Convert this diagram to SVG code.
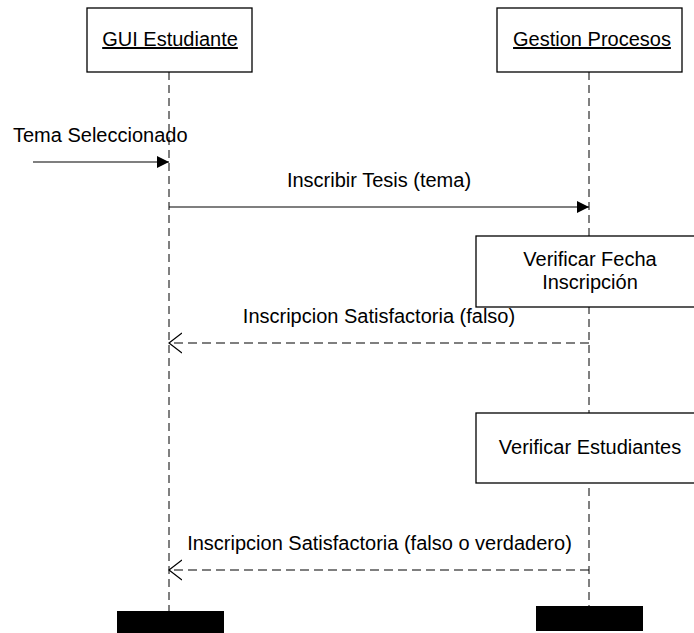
<svg xmlns="http://www.w3.org/2000/svg" width="694" height="633" viewBox="0 0 694 633">
  <style>
    text { font-family: "Liberation Sans", Arial, sans-serif; font-size: 20px; fill: #000; }
    .box { fill: #fff; stroke: #000; stroke-width: 1.3; }
    .life { stroke: #000; stroke-width: 1; stroke-dasharray: 8 5; fill: none; }
    .msg { stroke: #000; stroke-width: 1.2; fill: none; }
    .ret { stroke: #000; stroke-width: 1.2; fill: none; stroke-dasharray: 9 5; }
    .end { fill: #000; }
  </style>
  <defs>
    <marker id="solid" viewBox="0 0 12 12" refX="12" refY="6" markerWidth="12" markerHeight="12" markerUnits="userSpaceOnUse" orient="auto">
      <path d="M0,0 L12,6 L0,12 Z" fill="#000"/>
    </marker>
    <marker id="open" viewBox="0 0 14 22" refX="13" refY="11" markerWidth="14" markerHeight="22" markerUnits="userSpaceOnUse" orient="auto">
      <path d="M0,1 L13,11 L0,21" fill="none" stroke="#000" stroke-width="1.2"/>
    </marker>
  </defs>

  <!-- lifelines -->
  <g id="lifelines">
    <line class="life" x1="169" y1="72" x2="169" y2="611"/>
    <line class="life" x1="589" y1="72" x2="589" y2="606"/>
  </g>

  <!-- participants -->
  <g id="gui-estudiante">
    <rect class="box" x="87" y="8" width="165" height="64"/>
    <text x="170" y="46" text-anchor="middle" text-decoration="underline">GUI Estudiante</text>
    <rect class="end" x="117" y="611" width="107" height="24"/>
  </g>
  <g id="gestion-procesos">
    <rect class="box" x="497" y="8" width="185" height="64"/>
    <text x="592" y="46" text-anchor="middle" text-decoration="underline">Gestion Procesos</text>
    <rect class="end" x="536" y="606" width="107" height="25"/>
  </g>

  <!-- activities on Gestion Procesos -->
  <g id="verificar-fecha">
    <rect class="box" x="476" y="236" width="228" height="71"/>
    <text x="590" y="266" text-anchor="middle">Verificar Fecha</text>
    <text x="590" y="289" text-anchor="middle">Inscripción</text>
  </g>
  <g id="verificar-estudiantes">
    <rect class="box" x="476" y="413" width="228" height="70"/>
    <text x="590" y="454" text-anchor="middle">Verificar Estudiantes</text>
  </g>

  <!-- messages -->
  <g id="connectors">
    <line class="msg" x1="33" y1="162" x2="169" y2="162" marker-end="url(#solid)"/>
    <line class="msg" x1="169" y1="207" x2="589" y2="207" marker-end="url(#solid)"/>
    <line class="ret" x1="589" y1="343" x2="169" y2="343" marker-end="url(#open)"/>
    <line class="ret" x1="589" y1="570" x2="169" y2="570" marker-end="url(#open)"/>
  </g>
  <g id="labels">
    <text x="13" y="142">Tema Seleccionado</text>
    <text x="379" y="187" text-anchor="middle">Inscribir Tesis (tema)</text>
    <text x="379" y="323" text-anchor="middle">Inscripcion Satisfactoria (falso)</text>
    <text x="379.5" y="550" text-anchor="middle">Inscripcion Satisfactoria (falso o verdadero)</text>
  </g>
</svg>
